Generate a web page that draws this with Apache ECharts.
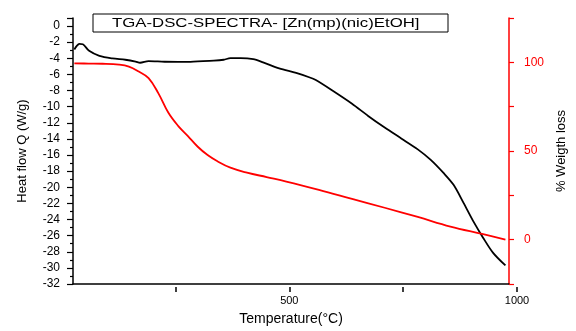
<!DOCTYPE html>
<html>
<head>
<meta charset="utf-8">
<script src="https://cdn.jsdelivr.net/npm/echarts@6/dist/echarts.min.js"></script>
<style>
html,body{margin:0;padding:0;background:#fff;}
#chart{width:576px;height:331px;}
</style>
</head>
<body>
<div id="chart"></div>
<script>
// DSC curve (left axis, Heat flow Q W/g)
var dscTemp = [28, 33, 39, 47, 61, 84, 113, 142, 165, 175, 194, 230, 274, 304, 340, 362, 377, 400, 428, 450, 486, 524, 553, 568, 605, 649, 685, 722, 759, 796, 825, 854, 876, 898, 920, 942, 964, 992];
var dscHeat = [-2.9, -2.5, -2.2, -2.25, -3.07, -3.69, -4.01, -4.18, -4.4, -4.55, -4.34, -4.43, -4.45, -4.38, -4.3, -4.18, -3.98, -3.97, -4.1, -4.5, -5.25, -5.82, -6.35, -6.7, -8.0, -9.64, -11.15, -12.59, -13.94, -15.3, -16.6, -18.25, -19.7, -21.9, -24.2, -26.25, -28.1, -29.7];
// TGA curve (right axis, % weight)
var tgaTemp = [28, 60, 91, 128, 150, 172, 194, 216, 238, 260, 282, 304, 326, 348, 377, 414, 458, 502, 575, 649, 722, 796, 869, 942, 992];
var tgaWeight = [99.4, 99.3, 99.2, 98.7, 97.6, 94.8, 91.1, 82.5, 71.7, 64.2, 58.4, 52.4, 47.7, 44.2, 40.6, 37.8, 35.3, 32.8, 28.1, 23, 18, 12.8, 7.4, 3.1, 0];
// tick labels
var xTickLabels = [500, 1000];
var rightTickLabels = [0, 50, 100];
var titleText = 'TGA-DSC-SPECTRA- [Zn(mp)(nic)EtOH]';

var X_MIN = 25, X_MAX = 1000, X_TICK_START = 250;
var G_LEFT = 73, G_RIGHT = 59, G_TOP = 18, G_BOTTOM = 44;
var plotW = 576 - G_LEFT - G_RIGHT;
var g2Left = G_LEFT + (X_TICK_START - X_MIN) / (X_MAX - X_MIN) * plotW;

function zip(a, b) { return a.map(function (v, i) { return [v, b[i]]; }); }

var FONT = 'Liberation Sans, Arial, sans-serif';
var chart = echarts.init(document.getElementById('chart'), null, {renderer: 'canvas'});
chart.setOption({
  animation: false,
  backgroundColor: '#fff',
  grid: [
    {left: G_LEFT, right: G_RIGHT, top: G_TOP, bottom: G_BOTTOM},
    {left: g2Left, right: G_RIGHT, top: G_TOP, bottom: G_BOTTOM}
  ],
  graphic: [
    {type: 'rect', z: 100, shape: {x: 93, y: 14, width: 355, height: 18},
     style: {fill: '#fff', stroke: '#000', lineWidth: 1}},
    {type: 'text', z: 101, x: 112, y: 23.5, scaleX: 1.29,
     style: {text: titleText, font: '13px ' + FONT, fill: '#000', verticalAlign: 'middle'}}
  ],
  xAxis: [
    {type: 'value', gridIndex: 0, min: X_MIN, max: X_MAX, position: 'bottom',
     axisLine: {show: true, onZero: false, lineStyle: {color: '#000', width: 1.5}},
     axisTick: {show: false}, axisLabel: {show: false}, splitLine: {show: false},
     name: 'Temperature(°C)', nameLocation: 'middle', nameGap: 28,
     nameTextStyle: {fontFamily: FONT, fontSize: 14, color: '#000'}},
    {type: 'value', gridIndex: 1, min: X_TICK_START, max: X_MAX, interval: 250, position: 'bottom',
     axisLine: {show: false, onZero: false},
     axisTick: {show: true, length: 5, lineStyle: {color: '#000', width: 1.5}},
     axisLabel: {margin: 8, fontFamily: FONT, fontSize: 11, color: '#000',
       formatter: function (v) { return xTickLabels.indexOf(v) >= 0 ? String(v) : ''; }},
     splitLine: {show: false}}
  ],
  yAxis: [
    {type: 'value', gridIndex: 0, min: -32, max: 1, interval: 2, position: 'left',
     axisLine: {show: true, onZero: false, lineStyle: {color: '#000', width: 1.5}},
     axisTick: {show: true, length: 6, lineStyle: {color: '#000', width: 1.2}},
     minorTick: {show: true, splitNumber: 2, length: 3, lineStyle: {color: '#000', width: 1.2}},
     axisLabel: {margin: 13, fontFamily: FONT, fontSize: 12, color: '#000',
       formatter: function (v) { return v > 0 ? '' : String(v); }},
     splitLine: {show: false},
     name: 'Heat flow Q (W/g)', nameLocation: 'middle', nameRotate: 90, nameGap: 44,
     nameTextStyle: {fontFamily: FONT, fontSize: 13, color: '#000'}},
    {type: 'value', gridIndex: 0, min: -25, max: 125, interval: 25, position: 'right',
     axisLine: {show: true, onZero: false, lineStyle: {color: '#ff0000', width: 1.5}},
     axisTick: {show: true, length: 5, lineStyle: {color: '#ff0000', width: 1.2}},
     axisLabel: {margin: 15, fontFamily: FONT, fontSize: 12, color: '#ff0000',
       formatter: function (v) { return rightTickLabels.indexOf(v) >= 0 ? String(v) : ''; }},
     splitLine: {show: false},
     name: '% Weigth loss', nameLocation: 'middle', nameRotate: 90, nameGap: 46,
     nameTextStyle: {fontFamily: FONT, fontSize: 13, color: '#000'}},
    {type: 'value', gridIndex: 1, show: false, min: 0, max: 1}
  ],
  series: [
    {type: 'line', name: 'DSC', xAxisIndex: 0, yAxisIndex: 0, data: zip(dscTemp, dscHeat),
     smooth: 0.3, symbol: 'none', lineStyle: {color: '#000', width: 1.8}},
    {type: 'line', name: 'TGA', xAxisIndex: 0, yAxisIndex: 1, data: zip(tgaTemp, tgaWeight),
     smooth: 0.4, symbol: 'none', lineStyle: {color: '#ff0000', width: 1.8}}
  ]
});
</script>
</body>
</html>
